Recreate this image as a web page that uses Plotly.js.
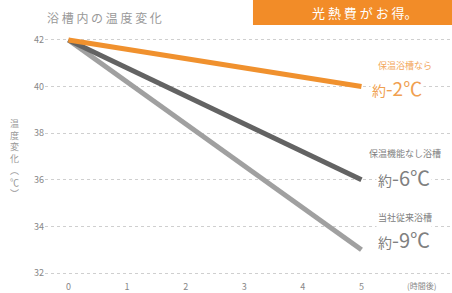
<!DOCTYPE html>
<html><head><meta charset="utf-8">
<script src="https://cdn.plot.ly/plotly-3.0.1.min.js"></script>
<style>html,body{margin:0;padding:0;background:#fff}#c{width:452px;height:293px}</style>
</head><body><div id="c"></div>
<script>
const hours = [0, 5];
const seriesNames = ["保温浴槽なら", "保温機能なし浴槽", "当社従来浴槽"];
const orangeTemps = [42, 40];
const darkTemps = [42, 36];
const lightTemps = [42, 33];
const dropPrefix = "約";
const dropValues = ["-2℃", "-6℃", "-9℃"];
const yTicks = [32, 34, 36, 38, 40, 42];
const xTicks = [0, 1, 2, 3, 4, 5];

const font = "'Noto Sans CJK JP', 'Noto Sans', sans-serif";
const drop = (i) => '<span style="font-size:14px">' + dropPrefix + '</span>' + dropValues[i];
const traces = [
  {x: hours, y: lightTemps, mode: 'lines', line: {color: '#a0a0a0', width: 5}, name: seriesNames[2]},
  {x: hours, y: darkTemps, mode: 'lines', line: {color: '#636363', width: 5}, name: seriesNames[1]},
  {x: hours, y: orangeTemps, mode: 'lines', line: {color: '#f0912e', width: 5}, name: seriesNames[0]}
];
const layout = {
  width: 452, height: 293,
  margin: {l: 45, r: 0, t: 33, b: 13},
  paper_bgcolor: '#fff', plot_bgcolor: '#fff',
  showlegend: false,
  font: {family: font, color: '#888'},
  xaxis: {range: [-0.4, 6.545], tickvals: xTicks, ticktext: xTicks.map(String), showgrid: false, zeroline: false, showline: false, ticks: '', tickfont: {size: 9, color: '#888'}, fixedrange: true},
  yaxis: {range: [31.7, 42.3], tickvals: yTicks, ticktext: yTicks.map(String), showgrid: true, gridcolor: '#cfcfcf', griddash: 'dot', gridwidth: 1, zeroline: false, showline: false, ticks: '', tickfont: {size: 9, color: '#888'}, fixedrange: true},
  shapes: [
    {type: 'rect', xref: 'paper', yref: 'paper', x0: 0.511, x1: 1.0, y0: 1.032, y1: 1.14, fillcolor: '#f28c28', line: {width: 0}, layer: 'below'}
  ],
  annotations: [
    {xref: 'paper', yref: 'paper', x: 0.786, y: 1.081, xanchor: 'center', yanchor: 'middle', text: '光 熱 費 が お 得。', showarrow: false, font: {size: 13, color: '#fff', family: font}},
    {xref: 'paper', yref: 'paper', x: 0.0, y: 1.062, xanchor: 'left', yanchor: 'middle', text: '浴 槽 内 の 温 度 変 化', showarrow: false, font: {size: 12, color: '#999', family: font}},
    {xref: 'paper', yref: 'paper', x: -0.074, y: 0.49, xanchor: 'center', yanchor: 'middle', text: '温<br>度<br>変<br>化<br>︵<br>℃<br>︶', showarrow: false, font: {size: 9, color: '#999', family: font}},
    {x: 6.03, y: 31.7, yanchor: 'middle', yshift: -5, text: '(時間後)', showarrow: false, font: {size: 8, color: '#888', family: font}},
    {x: 5.74, y: 40.9, text: seriesNames[0], showarrow: false, font: {size: 9, color: '#f3a860', family: font}},
    {x: 5.6, y: 39.94, text: drop(0), showarrow: false, bgcolor: '#fff', font: {size: 19, color: '#f0a050', family: font}},
    {x: 5.74, y: 37.15, text: seriesNames[1], showarrow: false, font: {size: 9, color: '#808080', family: font}},
    {x: 5.72, y: 36.08, text: drop(1), showarrow: false, bgcolor: '#fff', font: {size: 20, color: '#808080', family: font}},
    {x: 5.74, y: 34.4, text: seriesNames[2], showarrow: false, font: {size: 9, color: '#808080', family: font}},
    {x: 5.72, y: 33.42, text: drop(2), showarrow: false, bgcolor: '#fff', font: {size: 20, color: '#808080', family: font}}
  ]
};
Plotly.newPlot('c', traces, layout, {displayModeBar: false, staticPlot: true});
</script></body></html>
